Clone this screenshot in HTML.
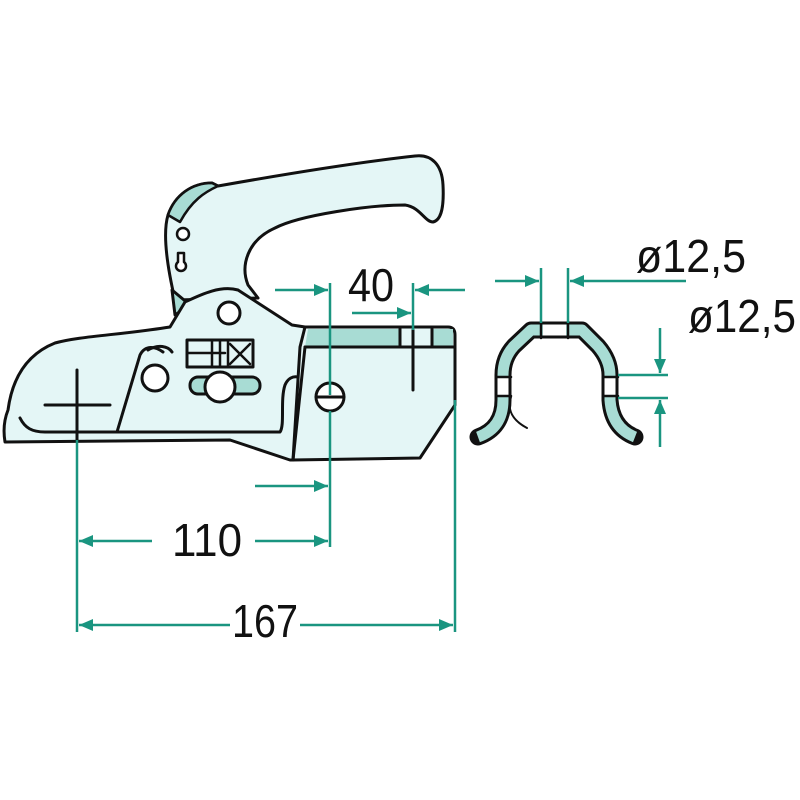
<!DOCTYPE html>
<html><head><meta charset="utf-8"><style>html,body{margin:0;padding:0;background:#fff}svg{display:block}</style></head><body>
<svg width="800" height="800" viewBox="0 0 800 800" xmlns="http://www.w3.org/2000/svg">
<defs>
<marker id="a" viewBox="0 0 14 12" refX="14" refY="6" markerWidth="14" markerHeight="12" orient="auto-start-reverse" markerUnits="userSpaceOnUse"><path d="M0,0 L14,6 L0,12 z" fill="#1a9580"/></marker>
</defs>
<g stroke="#111" stroke-width="3" stroke-linejoin="round" stroke-linecap="round">
<path d="M175,300 C168,270 162,235 168,215 C175,195 192,183 212,183 L218,186 C280,175 360,162 415,156 C432,154 442,165 443,185 C444,205 442,220 433,222 C425,222 420,207 405,205 C370,205 300,215 275,228 C248,240 240,265 248,285 L258,298 Z" fill="#e4f6f6"/>
<path d="M168,215 C175,195 192,183 212,183 L218,186 C205,192 192,200 180,222 Z" fill="#a8dcd4" stroke-width="2.5"/>
<path d="M172,290 L175,315 L190,305 Z" fill="#a8dcd4"/>
<path d="M300,327 L448,327 Q455,327 455,335 L455,405 L420,458 L292,460 Z" fill="#e4f6f6"/>
<path d="M308,329 L400,329 L400,347 L305,347 Z" fill="#a8dcd4" stroke="none"/>
<path d="M432,329 L453,329 L453,347 L432,347 Z" fill="#a8dcd4" stroke="none"/>
<path d="M305,347 L455,347 M400,329 L400,347 M432,329 L432,347" fill="none"/>
<path d="M185,302 C200,295 220,285 238,290 L292,325 L305,327 L300,347 L293,460 L290,460 L230,440 L5,442 C3,430 4,420 8,410 C12,380 25,355 55,343 C80,336 120,335 170,327 Z" fill="#e4f6f6"/>
<path d="M305,347 L293,460" fill="none"/>
<path d="M20,418 C25,428 32,432 45,432 L280,432 C285,425 280,400 285,385 C288,378 293,376 298,377" fill="none"/>
<path d="M117,432 L140,355 C145,345 155,346 163,352" fill="none"/>
<path d="M148,350 C158,344 168,346 172,352" fill="none"/>
<circle cx="229" cy="313" r="11" fill="#fff"/>
<circle cx="155" cy="378" r="13" fill="#fff"/>
<rect x="187" y="340" width="66" height="27" fill="#e4f6f6"/>
<path d="M187,353 L212,353 M212,340 L212,367 M220,340 L220,367 M208,353 L225,353 M230,344 L250,364 M230,364 L250,344 M228,340 L228,367" fill="none" stroke-width="2.5"/>
<rect x="190" y="377" width="70" height="17" rx="8" fill="#a8dcd4"/>
<circle cx="220" cy="387" r="15" fill="#fff"/>
<circle cx="183" cy="234" r="6" fill="#fff" stroke-width="2.5"/>
<path d="M178,253 L178,262 A5,5 0 1 0 184,262 L184,253 Z" fill="#fff" stroke-width="2.5"/>
<circle cx="330" cy="397" r="14" fill="#fff"/>
<path d="M413,330 L413,390 M77,370 L77,440 M45,405 L110,405 M316,397 L344,397" fill="none"/>
<!-- clip -->
<path d="M478,437 Q503,428 503,400 L503,375 Q503,358 514,346 L531,330 L582,330 L598,346 Q610,360 610,375 L610,400 Q612,428 635,437" fill="none" stroke-width="17" stroke-linejoin="round"/>
<path d="M478,437 Q503,428 503,400 L503,375 Q503,358 514,346 L531,330 L582,330 L598,346 Q610,360 610,375 L610,400 Q612,428 635,437" fill="none" stroke="#a8dcd4" stroke-width="11" stroke-linejoin="round" stroke-linecap="butt"/>
<path d="M543,330 L566,330 M503,378 L503,396 M610,378 L610,396" fill="none" stroke="#fff" stroke-width="11" stroke-linecap="butt"/>
<path d="M541,323 L541,338 M568,323 L568,338 M496,377 L511,377 M496,396 L511,396 M603,377 L618,377 M603,396 L618,396" fill="none" stroke-width="2.5"/>
<path d="M511,397 C507,410 512,420 527,428" fill="none" stroke-width="2"/>
</g>
<g stroke="#1a9580" stroke-width="2.5" fill="none">
<path d="M77,440 L77,632 M330,283 L330,395 M330,411 L330,547 M455,400 L455,632 M413,283 L413,330 M541,268 L541,323 M568,268 L568,323 M618,375 L668,375 M618,398 L668,398"/>
<path d="M152,541 L79,541" marker-end="url(#a)"/>
<path d="M255,541 L328,541" marker-end="url(#a)"/>
<path d="M255,486 L328,486" marker-end="url(#a)"/>
<path d="M230,625 L79,625" marker-end="url(#a)"/>
<path d="M300,625 L453,625" marker-end="url(#a)"/>
<path d="M275,290 L328,290" marker-end="url(#a)"/>
<path d="M465,290 L415,290" marker-end="url(#a)"/>
<path d="M352,313 L411,313" marker-end="url(#a)"/>
<path d="M495,281 L539,281" marker-end="url(#a)"/>
<path d="M686,281 L570,281" marker-end="url(#a)"/>
<path d="M660,328 L660,373" marker-end="url(#a)"/>
<path d="M660,447 L660,400" marker-end="url(#a)"/>
</g>
<g font-family="Liberation Sans, sans-serif" font-size="46" fill="#111">
<text x="172" y="556" textLength="70" lengthAdjust="spacingAndGlyphs">110</text>
<text x="232" y="637" textLength="66" lengthAdjust="spacingAndGlyphs">167</text>
<text x="348" y="301" textLength="46" lengthAdjust="spacingAndGlyphs">40</text>
<text x="636" y="272" textLength="110" lengthAdjust="spacingAndGlyphs">ø12,5</text>
<text x="688" y="332" textLength="108" lengthAdjust="spacingAndGlyphs">ø12,5</text>
</g>
</svg>
</body></html>
